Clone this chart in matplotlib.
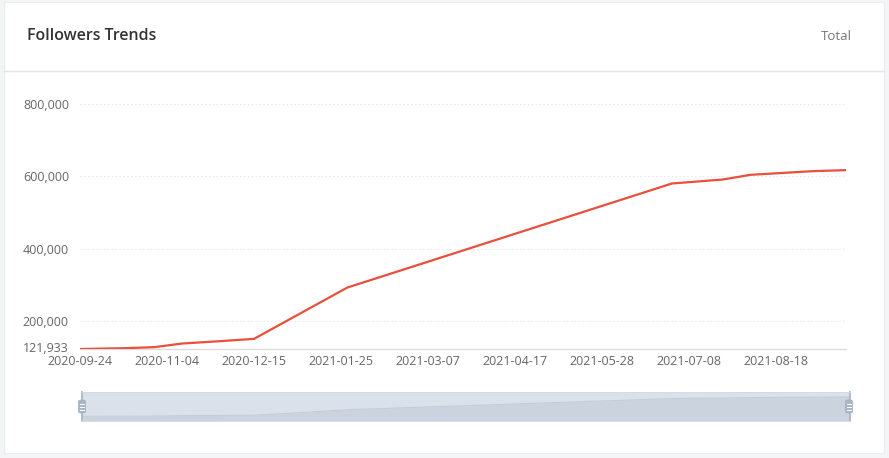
import matplotlib.pyplot as plt
import matplotlib.dates as mdates
import matplotlib.transforms as mtransforms
import numpy as np
from matplotlib.patches import FancyBboxPatch, Rectangle
from matplotlib.lines import Line2D
from matplotlib.ticker import FixedLocator, FuncFormatter

plt.rcParams["font.family"] = ["Open Sans", "DejaVu Sans"]

# data
dates = np.array([
    "2020-09-24", "2020-10-14", "2020-10-29", "2020-11-11", "2020-11-30",
    "2020-12-15", "2021-01-28", "2021-06-30", "2021-07-24", "2021-08-06",
    "2021-09-04", "2021-09-20",
], dtype="datetime64[D]")
followers = np.array([
    121933, 124000, 127000, 137000, 144000,
    150000, 292000, 580000, 591000, 604000,
    614000, 617000,
])
tick_dates = np.arange(np.datetime64("2020-09-24"), np.datetime64("2021-08-19"), 41)
y_ticks = [121933, 200000, 400000, 600000, 800000]

title = "Followers Trends"
mode_label = "Total"

line_color = "#e8503c"
text_color = "#666666"

W, H = 889, 458
fig = plt.figure(figsize=(W / 100, H / 100), dpi=100)
fig.patch.set_facecolor("#f4f5f7")


def fx(px):
    return px / W


def fy(py):
    return 1 - py / H


# white card and header separator (behind the axes)
card = Rectangle((fx(4), fy(453)), fx(880), 451 / H, transform=fig.transFigure,
                 facecolor="white", edgecolor="#ececec", linewidth=0.8, zorder=-5)
fig.patches.append(card)
fig.lines.append(Line2D([fx(4), fx(884)], [fy(71), fy(71)], transform=fig.transFigure,
                        color="#e4e4e4", linewidth=1, zorder=-4))
fig.text(fx(27), fy(36), title, fontsize=11.5, fontweight="semibold", color="#333333",
         va="center", ha="left")
fig.text(fx(852), fy(37), mode_label, fontsize=9.5, color="#777777", va="center", ha="right")

# main line chart
x_num = mdates.date2num(dates.astype("datetime64[s]").astype(object))
ax = fig.add_axes([fx(80), fy(349), fx(766), 245 / H])
ax.set_facecolor("none")
ax.plot(x_num, followers, color=line_color, linewidth=1.6, solid_joinstyle="round", zorder=3)
ax.set_xlim(x_num[0], x_num[-1])
ax.set_ylim(y_ticks[0], y_ticks[-1])

ax.yaxis.set_major_locator(FixedLocator(y_ticks))
ax.yaxis.set_major_formatter(FuncFormatter(lambda v, p: f"{int(round(v)):,}"))
tick_num = mdates.date2num(tick_dates.astype("datetime64[s]").astype(object))
ax.set_xticks(tick_num)
ax.set_xticklabels([str(d) for d in tick_dates])

for v in y_ticks[1:]:
    ax.axhline(v, color="#e9e9e9", linewidth=0.8, linestyle=(0, (1.5, 2)), zorder=1)

for side in ["top", "right", "left"]:
    ax.spines[side].set_visible(False)
ax.spines["bottom"].set_color("#dcdcdc")
ax.spines["bottom"].set_linewidth(1)
ax.tick_params(axis="both", length=0, labelsize=9, labelcolor=text_color)
ax.tick_params(axis="y", pad=8)
ax.tick_params(axis="x", pad=4.5)
# the min label sits a touch above the axis line, as in the reference
lift = mtransforms.ScaledTranslation(0, 2 / 100, fig.dpi_scale_trans)
for lab in ax.yaxis.get_majorticklabels()[:1]:
    lab.set_transform(lab.get_transform() + lift)

# data zoom slider
sx = fig.add_axes([fx(82), fy(421), fx(768), 29 / H])
sx.set_facecolor("#dae1ea")
sx.fill_between(x_num, 0, followers, color="#cbd3de", linewidth=0)
sx.plot(x_num, followers, color="#c3ccd8", linewidth=0.8)
sx.set_xlim(x_num[0], x_num[-1])
sx.set_ylim(0, followers.max() * 1.21)
sx.set_xticks([])
sx.set_yticks([])
for side in ["top", "bottom"]:
    sx.spines[side].set_color("#d4dbe5")
    sx.spines[side].set_linewidth(0.6)
for side in ["left", "right"]:
    sx.spines[side].set_color("#a7b3c3")
    sx.spines[side].set_linewidth(1.2)

for hx in (82, 849):
    handle = FancyBboxPatch((fx(hx - 3.5), fy(413)), fx(7), 13 / H,
                            boxstyle="round,pad=0,rounding_size=0.003",
                            transform=fig.transFigure, facecolor="#a9b6c7",
                            edgecolor="#a0adbe", linewidth=0.5, zorder=5)
    fig.patches.append(handle)
    for ly in (404, 407, 410):
        fig.lines.append(Line2D([fx(hx - 2), fx(hx + 2)], [fy(ly), fy(ly)],
                                transform=fig.transFigure, color="white",
                                linewidth=0.7, zorder=6))

fig.savefig("out.png", dpi=100, facecolor=fig.get_facecolor())
